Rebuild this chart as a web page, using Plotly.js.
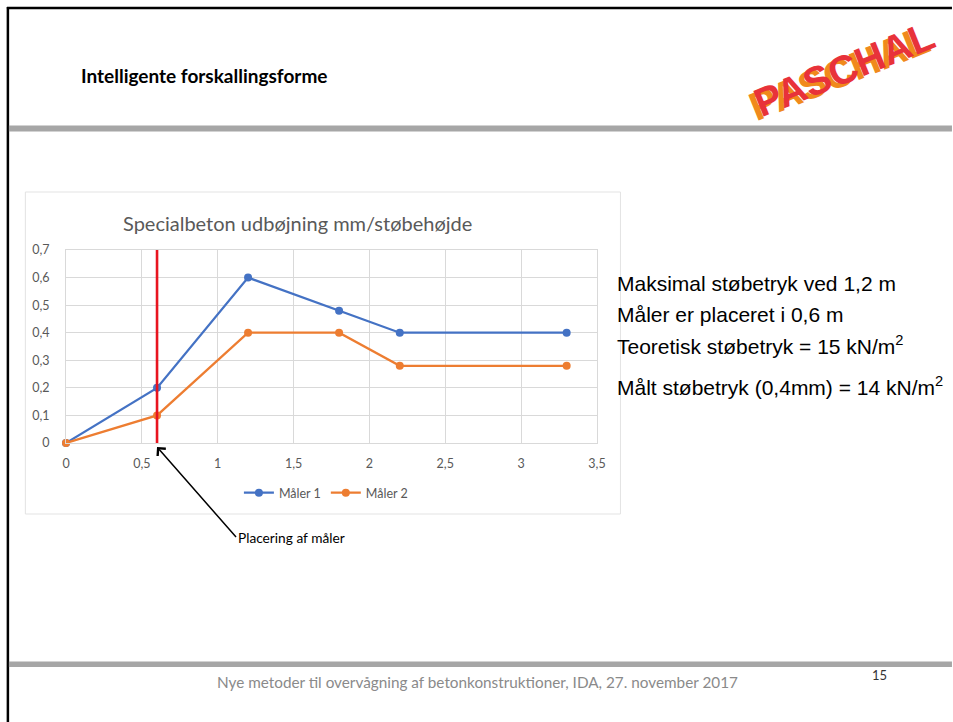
<!DOCTYPE html>
<html>
<head>
<meta charset="utf-8">
<script src="https://cdn.plot.ly/plotly-3.0.1.min.js"></script>
<style>
  html, body { margin: 0; padding: 0; background: #ffffff; }
  #slide { width: 953px; height: 722px; }
</style>
</head>
<body>
<div id="slide"></div>
<script>
// Measurements: casting height (m) against deflection (mm)
const stobehojde = [0, 0.6, 1.2, 1.8, 2.2, 3.3];
const maaler1 = [0, 0.2, 0.6, 0.48, 0.4, 0.4];
const maaler2 = [0, 0.1, 0.4, 0.4, 0.28, 0.28];
const serieNavne = ['Måler 1', 'Måler 2'];
const malerPlacering = 0.6;

const chartTitle = 'Specialbeton udbøjning mm/støbehøjde';
const slideTitle = 'Intelligente forskallingsforme';
const noter = [
  'Maksimal støbetryk ved 1,2 m',
  'Måler er placeret i 0,6 m',
  'Teoretisk støbetryk = 15 kN/m<sup>2</sup>',
  'Målt støbetryk (0,4mm) = 14 kN/m<sup>2</sup>'
];
const pilTekst = 'Placering af måler';
const footerText = 'Nye metoder til overvågning af betonkonstruktioner, IDA, 27. november 2017';
const sideNr = '15';
const logoText = 'PASCHAL';

// page geometry (pixels) and the plot area inside it
const W = 953, H = 722;
const PL = 65.7, PR = 597.5, PT = 250, PB = 443;
const fx = px => (px - PL) / (PR - PL);
const fy = py => (PB - py) / (PB - PT);
const xRange = [0, 3.5];
const dataToPx = v => PL + (v - xRange[0]) / (xRange[1] - xRange[0]) * (PR - PL);

const blue = '#4472C4';
const orange = '#ED7D31';
const grid = '#d9d9d9';
const tickGray = '#595959';
const calibri = 'Lato, "Open Sans", sans-serif';
const arial = '"Liberation Sans", Arial, sans-serif';

const traces = [
  {
    x: stobehojde, y: maaler1, name: serieNavne[0], type: 'scatter', mode: 'lines+markers',
    line: { color: blue, width: 2.25 }, marker: { color: blue, size: 8 }, cliponaxis: false
  },
  {
    x: stobehojde, y: maaler2, name: serieNavne[1], type: 'scatter', mode: 'lines+markers',
    line: { color: orange, width: 2.25 }, marker: { color: orange, size: 8 }, cliponaxis: false
  }
];

const shapes = [
  // chart panel
  { type: 'rect', xref: 'paper', yref: 'paper', x0: fx(25), x1: fx(621), y0: fy(192), y1: fy(514),
    fillcolor: '#ffffff', line: { color: '#e3e3e3', width: 1 }, layer: 'below' },
  // slide frame: top and left black rules
  { type: 'line', xref: 'paper', yref: 'paper', x0: fx(6.5), x1: fx(953), y0: fy(8), y1: fy(8),
    line: { color: '#000000', width: 2.5 } },
  { type: 'line', xref: 'paper', yref: 'paper', x0: fx(7.5), x1: fx(7.5), y0: fy(7), y1: fy(722),
    line: { color: '#000000', width: 2.5 } },
  // grey header / footer bars
  { type: 'rect', xref: 'paper', yref: 'paper', x0: fx(8.5), x1: fx(953), y0: fy(125.5), y1: fy(131.5),
    fillcolor: '#a6a6a6', line: { width: 0 } },
  { type: 'rect', xref: 'paper', yref: 'paper', x0: fx(8.5), x1: fx(953), y0: fy(661.5), y1: fy(667),
    fillcolor: '#a6a6a6', line: { width: 0 } },
  // sensor position marker
  { type: 'line', xref: 'x', yref: 'y', x0: malerPlacering, x1: malerPlacering, y0: -0.012, y1: 0.7,
    line: { color: '#e8141f', width: 2.6 }, layer: 'above' }
];

const annotations = [
  { xref: 'paper', yref: 'paper', x: fx(79), y: fy(75), xanchor: 'left', yanchor: 'middle',
    text: '<b>' + slideTitle + '</b>', showarrow: false,
    font: { family: calibri, size: 19, color: '#000000' } },
  { xref: 'paper', yref: 'paper', x: fx(297.5), y: fy(223), xanchor: 'center', yanchor: 'middle',
    text: chartTitle, showarrow: false,
    font: { family: calibri, size: 20, color: tickGray } },
  // label with pointer to the foot of the sensor line
  { xref: 'paper', yref: 'paper', x: fx(dataToPx(malerPlacering)), y: fy(447), text: pilTekst, showarrow: true,
    ax: 79, ay: 90, axref: 'pixel', ayref: 'pixel', xanchor: 'left', yanchor: 'middle',
    arrowhead: 4, arrowsize: 1.4, arrowwidth: 1.5, arrowcolor: '#000000', standoff: 0,
    font: { family: calibri, size: 13.7, color: '#000000' } },
  // footer
  { xref: 'paper', yref: 'paper', x: fx(477.5), y: fy(682), xanchor: 'center', yanchor: 'middle',
    text: footerText, showarrow: false,
    font: { family: calibri, size: 15.3, color: '#8a8a8a' } },
  { xref: 'paper', yref: 'paper', x: fx(880), y: fy(675), xanchor: 'center', yanchor: 'middle',
    text: sideNr, showarrow: false,
    font: { family: calibri, size: 13, color: '#333333' } },
  // logo lettering
  { xref: 'paper', yref: 'paper', x: fx(840), y: fy(73), xanchor: 'center', yanchor: 'middle',
    text: '<b>' + logoText + '</b>', showarrow: false, textangle: -22,
    font: { family: arial, size: 40, color: '#f08a1c' } },
  { xref: 'paper', yref: 'paper', x: fx(845), y: fy(69), xanchor: 'center', yanchor: 'middle',
    text: '<b>' + logoText + '</b>', showarrow: false, textangle: -22,
    font: { family: arial, size: 40, color: '#e8323a' } }
];

const noteY = [283, 314, 345, 386];
noter.forEach((t, i) => {
  annotations.push({
    xref: 'paper', yref: 'paper', x: fx(616), y: fy(noteY[i]), xanchor: 'left', yanchor: 'middle',
    text: t, showarrow: false, font: { family: arial, size: 21, color: '#000000' }
  });
});

const layout = {
  width: W, height: H, autosize: false,
  margin: { l: PL, r: W - PR, t: PT, b: H - PB, pad: 0 },
  paper_bgcolor: '#ffffff', plot_bgcolor: 'rgba(0,0,0,0)',
  separators: ',.',
  showlegend: true,
  legend: {
    orientation: 'h', x: fx(326), xanchor: 'center', y: fy(493), yanchor: 'middle',
    font: { family: calibri, size: 12.5, color: tickGray }, itemwidth: 30,
    bgcolor: 'rgba(0,0,0,0)', traceorder: 'normal'
  },
  xaxis: {
    range: xRange, dtick: 0.5, tick0: 0, showgrid: true, gridcolor: grid, gridwidth: 1,
    zeroline: false, showline: true, linecolor: grid, linewidth: 1, mirror: true,
    ticks: 'outside', ticklen: 9, tickcolor: 'rgba(0,0,0,0)',
    tickfont: { family: calibri, size: 12.5, color: tickGray }, fixedrange: true
  },
  yaxis: {
    range: [0, 0.7], dtick: 0.1, tick0: 0, showgrid: true, gridcolor: grid, gridwidth: 1,
    zeroline: false, showline: true, linecolor: grid, linewidth: 1, mirror: true,
    ticks: 'outside', ticklen: 13, tickcolor: 'rgba(0,0,0,0)',
    tickfont: { family: calibri, size: 12.5, color: tickGray }, fixedrange: true
  },
  shapes: shapes,
  annotations: annotations
};

Plotly.newPlot('slide', traces, layout, { displayModeBar: false, staticPlot: true });
</script>
</body>
</html>
